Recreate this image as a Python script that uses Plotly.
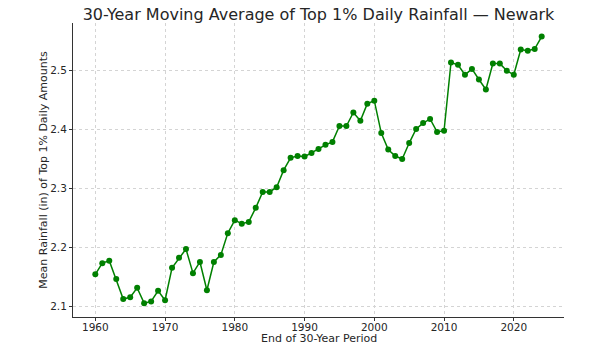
import plotly.graph_objects as go

years = list(range(1960, 2025))
values = [2.154, 2.173, 2.177, 2.146, 2.112, 2.115, 2.131, 2.105, 2.108, 2.126,
          2.110, 2.165, 2.182, 2.197, 2.156, 2.175, 2.127, 2.175, 2.187, 2.224,
          2.246, 2.240, 2.243, 2.267, 2.294, 2.294, 2.302, 2.331, 2.352, 2.355,
          2.354, 2.360, 2.367, 2.374, 2.379, 2.406, 2.406, 2.429, 2.415, 2.444,
          2.449, 2.394, 2.366, 2.355, 2.350, 2.377, 2.401, 2.411, 2.418, 2.396,
          2.398, 2.514, 2.510, 2.493, 2.503, 2.485, 2.468, 2.512, 2.512, 2.500,
          2.493, 2.536, 2.534, 2.537, 2.558]
x_ticks = [1960, 1970, 1980, 1990, 2000, 2010, 2020]
y_ticks = [2.1, 2.2, 2.3, 2.4, 2.5]

FONT = "DejaVu Sans"
W, H = 600, 349
ML, MR, MT, MB = 73, 36, 23, 32
fig = go.Figure()
fig.add_trace(go.Scatter(
    x=years, y=values, mode="lines+markers",
    line=dict(color="#008000", width=1.5),
    marker=dict(color="#008000", size=6),
    showlegend=False,
))
axis_common = dict(
    showgrid=True, gridcolor="#d4d4d4", griddash="dot", gridwidth=1,
    showline=True, linecolor="#333333", linewidth=1,
    ticks="outside", ticklen=3, tickcolor="#333333",
    tickfont=dict(family=FONT, size=10.5, color="#262626"),
    zeroline=False, automargin=False,
)
plot_h = H - MT - MB
fig.update_layout(
    width=W, height=H,
    margin=dict(l=ML, r=MR, t=MT, b=MB),
    paper_bgcolor="white", plot_bgcolor="white",
    font=dict(family=FONT, color="#262626"),
    title=dict(text="30-Year Moving Average of Top 1% Daily Rainfall — Newark",
               x=(ML + W - MR) / 2 / W, xanchor="center", y=1 - 14 / H, yanchor="middle",
               font=dict(family=FONT, size=16, color="#262626")),
    xaxis=dict(range=[1956.8, 2027.2], tickvals=x_ticks, ticklabelstandoff=-3, **axis_common),
    yaxis=dict(range=[2.0815, 2.581], tickvals=y_ticks, tickformat=".1f",
               title=dict(text="Mean Rainfall (in) of Top 1% Daily Amounts", font=dict(family=FONT, size=11), standoff=0),
               **axis_common),
    annotations=[dict(text="End of 30-Year Period", xref="paper", yref="paper",
                      x=0.5, y=-(338 - (H - MB)) / plot_h, xanchor="center", yanchor="middle",
                      showarrow=False, font=dict(family=FONT, size=11, color="#262626"))],
)
fig.write_html("out.html")
